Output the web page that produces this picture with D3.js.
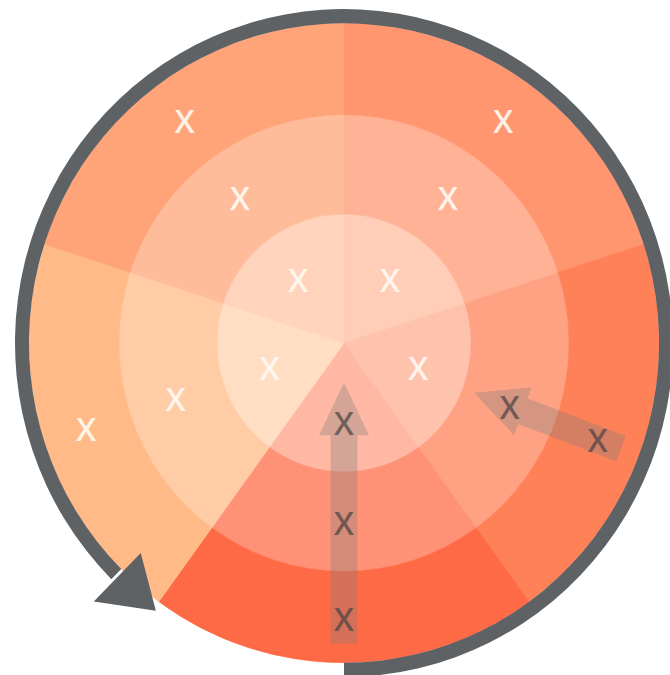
<!DOCTYPE html>
<html>
<head>
<meta charset="utf-8">
<script src="https://cdn.jsdelivr.net/npm/d3@7"></script>
<style>
  html, body { margin: 0; padding: 0; background: #fff; }
  svg { display: block; }
</style>
</head>
<body>
<div id="chart"></div>
<script>
// five equal sectors, each split in three rings
const sectors = ["A", "B", "C", "D", "E"];
const rings = ["inner", "middle", "outer"];
const cellMarks = [
  ["X", "X", "X"],
  ["X", "X", "X"],
  ["X", "X", "X"],
  ["X", "X", "X"],
  ["X", "X", "X"]
];
// arrows pointing inwards along a sector
const arrows = [
  { sector: "C", from: "outer", to: "inner" },
  { sector: "B", from: "outer", to: "middle" }
];

const width = 670, height = 675;
const cx = 344, cy = 343;

const sectorColor = d3.scaleOrdinal()
  .domain(sectors)
  .range(["#ff9670", "#ff8158", "#ff6a46", "#ffba88", "#ffa479"]);
const ringWash = d3.scaleOrdinal().domain(rings).range([0.53, 0.27, 0]);

const outerR = d3.scaleOrdinal().domain(rings).range([127, 225, 315]);
const innerR = d3.scaleOrdinal().domain(rings).range([0, 127, 225]);
const markR = d3.scaleOrdinal().domain(rings).range([78, 177, 271]);

const angle = d3.scaleBand().domain(sectors).range([0, 2 * Math.PI]);
const mid = s => angle(s) + angle.bandwidth() / 2;
const rad = deg => deg * Math.PI / 180;

// small hand tweak: the diagonal arrow sits a bit off the sector middle
const arrowTilt = { B: rad(2.6), C: 0 };
const arrowTail = 296;
const arrowTip = { inner: 39, middle: 139 };

const cells = sectors.flatMap((s, i) => rings.map((ring, j) => ({
  sector: s, ring: ring, mark: cellMarks[i][j],
  arrow: arrows.find(a => a.sector === s &&
    rings.indexOf(ring) >= rings.indexOf(a.to) && rings.indexOf(ring) <= rings.indexOf(a.from))
})));

const svg = d3.select("#chart").append("svg")
  .attr("width", width)
  .attr("height", height)
  .attr("viewBox", [0, 0, width, height]);

const g = svg.append("g")
  .attr("transform", `translate(${cx},${cy}) scale(1,1.015)`);

const cellArc = d3.arc()
  .innerRadius(d => innerR(d.ring))
  .outerRadius(d => outerR(d.ring))
  .startAngle(d => angle(d.sector))
  .endAngle(d => angle(d.sector) + angle.bandwidth());

const cellFill = d => d3.interpolateRgb(sectorColor(d.sector), "#fffdf8")(ringWash(d.ring));

g.selectAll("path.cell")
  .data(cells)
  .join("path")
  .attr("class", "cell")
  .attr("d", cellArc)
  .attr("fill", cellFill)
  .attr("stroke", cellFill)
  .attr("stroke-width", 0.6);

// outer rotating arrow
const ring = d3.arc()
  .innerRadius(315)
  .outerRadius(329)
  .startAngle(rad(-135))
  .endAngle(rad(180));
g.append("path")
  .attr("d", ring())
  .attr("fill", "#5f6265");

const headBase = rad(-135.5);
const head = [
  d3.pointRadial(headBase, 290),
  d3.pointRadial(headBase, 357),
  d3.pointRadial(rad(-144.5), 324)
];
g.append("path")
  .attr("d", d3.line()(head) + "Z")
  .attr("fill", "#5f6265");

// translucent radial arrows
const shaft = 13.5, headW = 25, headL = 52;
const arrowPath = a => {
  const t = arrowTail, p = arrowTip[a.to];
  return d3.line()([
    [-shaft, -t], [shaft, -t], [shaft, -(p + headL)], [headW, -(p + headL)],
    [0, -p], [-headW, -(p + headL)], [-shaft, -(p + headL)]
  ]) + "Z";
};
g.selectAll("path.arrow")
  .data(arrows)
  .join("path")
  .attr("class", "arrow")
  .attr("transform", a => `rotate(${(mid(a.sector) + arrowTilt[a.sector]) * 180 / Math.PI})`)
  .attr("d", arrowPath)
  .attr("fill", "#7d7d7d")
  .attr("fill-opacity", 0.33);

// X marks
g.selectAll("text.mark")
  .data(cells)
  .join("text")
  .attr("class", "mark")
  .attr("transform", d => {
    const a = mid(d.sector) + (d.arrow ? arrowTilt[d.sector] : 0);
    const [x, y] = d3.pointRadial(a, markR(d.ring));
    return `translate(${x},${y})`;
  })
  .attr("text-anchor", "middle")
  .attr("dominant-baseline", "central")
  .attr("font-family", "'Open Sans', 'DejaVu Sans', sans-serif")
  .attr("font-weight", 600)
  .attr("font-size", 32)
  .attr("fill", d => d.arrow ? "#4a4444" : "#fffaf2")
  .attr("fill-opacity", d => d.arrow ? 0.72 : 0.92)
  .text(d => d.mark);
</script>
</body>
</html>
